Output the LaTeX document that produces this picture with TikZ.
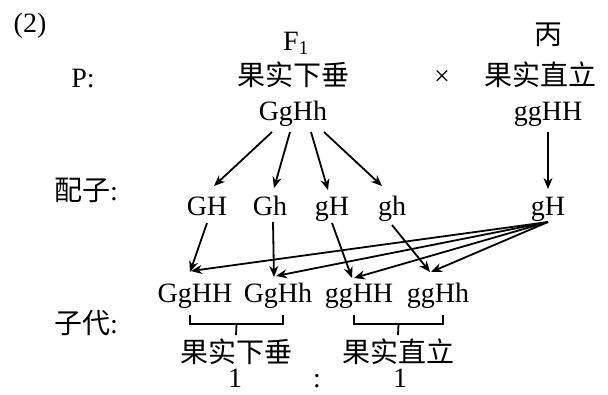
\documentclass[tikz,border=0pt]{standalone}
\usepackage{fontspec}
\setmainfont{Liberation Serif}
\newfontfamily\cjk{Noto Sans CJK SC}
\usetikzlibrary{arrows.meta,positioning,calc}
\tikzset{
  >={Stealth[length=11pt,width=9pt]},
  txt/.style={anchor=base,inner sep=0pt,font=\fontsize{28}{34}\selectfont},
  zh/.style={txt,font=\fontsize{28}{34}\selectfont\cjk},
}

\begin{document}
\begin{tikzpicture}[
x=1pt,y=-1pt,
arr/.style={->,line width=1.8pt},
brk/.style={line width=1.8pt}
]
\useasboundingbox (0,0) rectangle (608,394);

\node[txt] (num) at (30,32) {(2)};
\node[txt] (f1) at (296,50) {F\textsubscript{1}};
\node[zh] (bing) at (548,44) {丙};
\node[txt] (plab) at (83,87) {P:};
\node[zh] (pheno1) at (293,85) {果实下垂};
\node[txt] (cross) at (442,85) {×};
\node[zh] (pheno2) at (540,85) {果实直立};
\node[txt] (geno1) at (293,120) {GgHh};
\node[txt] (geno2) at (548,120) {ggHH};

\node[txt] (glab) at (86,200) {{\cjk 配子}:};
\node[txt] (gGH) at (207,215) {GH};
\node[txt] (gGh) at (270,215) {Gh};
\node[txt] (ggH) at (332,215) {gH};
\node[txt] (ggh) at (392,215) {gh};
\node[txt] (gR) at (548,215) {gH};

\node[txt] (o1) at (195,302) {GgHH};
\node[txt] (o2) at (278,302) {GgHh};
\node[txt] (o3) at (359,302) {ggHH};
\node[txt] (o4) at (438,302) {ggHh};
\node[txt] (olab) at (86,333) {{\cjk 子代}:};

\node[zh] (r1) at (236,362) {果实下垂};
\node[zh] (r2) at (398,362) {果实直立};
\node[txt] (n1) at (235,387) {1};
\node[txt] (ratio) at (317,387) {:};
\node[txt] (n2) at (400,387) {1};

\draw[arr] ($(geno1.base)+(-21,12)$) -- ($(gGH.base)+(7,-29)$);
\draw[arr] ($(geno1.base)+(-3,12)$) -- ($(gGh.base)+(4,-27)$);
\draw[arr] ($(geno1.base)+(18,12)$) -- ($(ggH.base)+(-4,-25)$);
\draw[arr] ($(geno1.base)+(31,12)$) -- ($(ggh.base)+(-10,-29)$);
\draw[arr] ($(geno2.base)+(0,12)$) -- ($(gR.base)+(0,-26)$);

\draw[arr] ($(gGH.base)+(0,8)$) -- ($(o1.base)+(-5,-30)$);
\draw[arr] ($(gGh.base)+(3,7)$) -- ($(o2.base)+(-4,-25)$);
\draw[arr] ($(ggH.base)+(0,8)$) -- ($(o3.base)+(-7,-24)$);
\draw[arr] ($(ggh.base)+(0,10)$) -- ($(o4.base)+(-8,-30)$);
\draw[arr] ($(gR.base)+(0,7)$) -- ($(o1.base)+(-4,-31)$);
\draw[arr] ($(gR.base)+(0,7)$) -- ($(o2.base)+(-2,-26)$);
\draw[arr] ($(gR.base)+(0,7)$) -- ($(o3.base)+(-5,-24)$);
\draw[arr] ($(gR.base)+(0,7)$) -- ($(o4.base)+(-7,-30)$);

\draw[brk] ($(o1.base)+(-5,13)$) |- ($(o2.base)+(5,22)$) -- ++(0,-9);
\draw[brk] ($(o1.base)!.5!(o2.base)+(0,22)$) -- ($(r1.north)+(0,-3)$);
\draw[brk] ($(o3.base)+(-5,13)$) |- ($(o4.base)+(5,22)$) -- ++(0,-9);
\draw[brk] ($(o3.base)!.5!(o4.base)+(0,22)$) -- ($(r2.north)+(0,-3)$);
\end{tikzpicture}
\end{document}
